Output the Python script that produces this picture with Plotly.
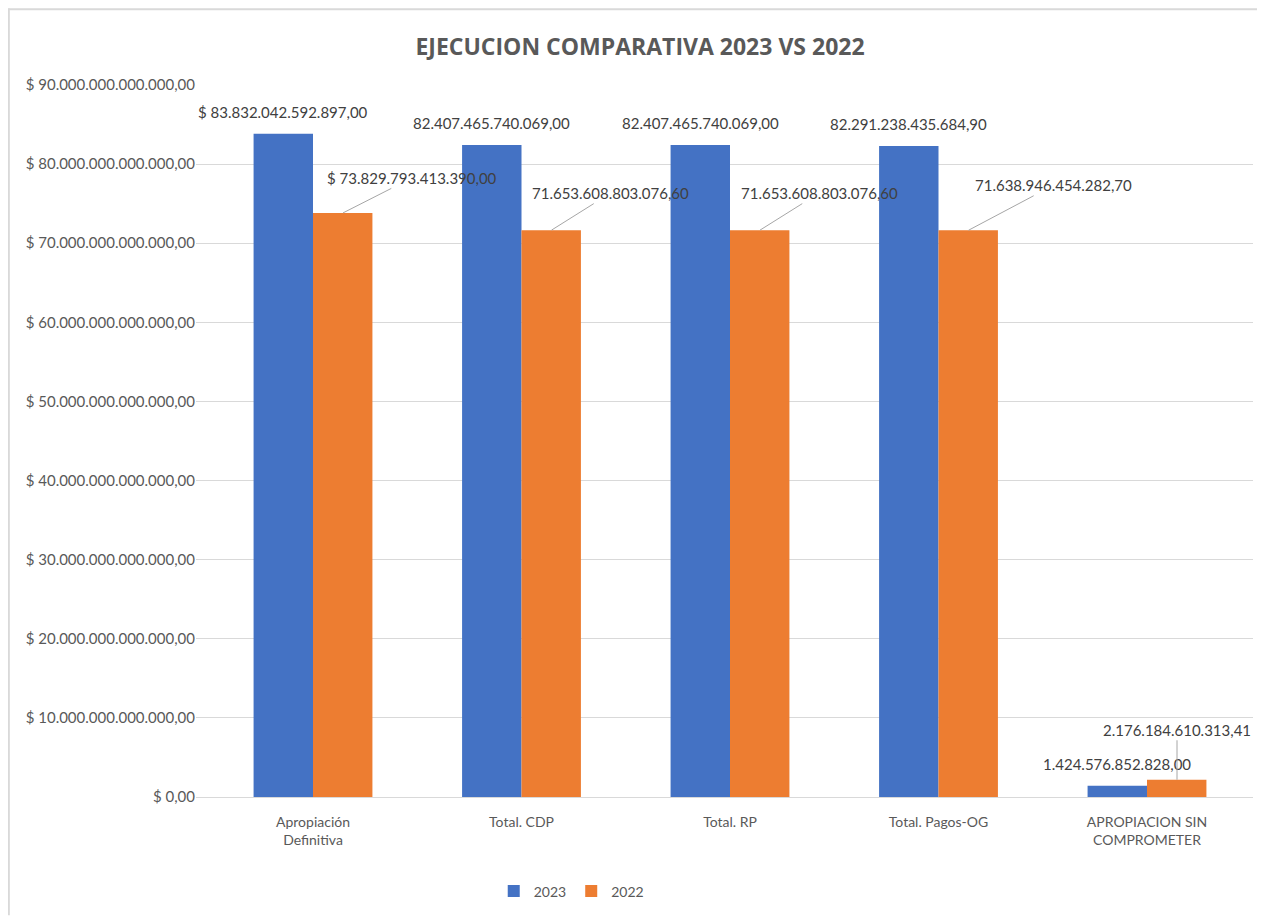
from decimal import Decimal
import plotly.graph_objects as go

categories = ["Apropiación<br>Definitiva", "Total. CDP", "Total. RP", "Total. Pagos-OG",
              "APROPIACION SIN<br>COMPROMETER"]
series_names = ["2023", "2022"]
values_2023 = [83832042592897.00, 82407465740069.00, 82407465740069.00, 82291238435684.90, 1424576852828.00]
values_2022 = [73829793413390.00, 71653608803076.60, 71653608803076.60, 71638946454282.70, 2176184610313.41]
label_prefix = ["$ ", "", "", "", ""]
y_tick_values = [0, 10e12, 20e12, 30e12, 40e12, 50e12, 60e12, 70e12, 80e12, 90e12]

BLUE = "#4472C4"
ORANGE = "#ED7D31"
FONT = "Lato"

OFF = 8
W, H = 1265 - OFF, 920 - OFF
ML, MR, MT, MB = 188, 12, 77, 119
PW = W - ML - MR
PH = H - MT - MB


def fmt(v):
    d = Decimal(repr(float(v))).quantize(Decimal("0.01"))
    s = f"{d:,.2f}"
    return s.replace(",", "X").replace(".", ",").replace("X", ".")


fig = go.Figure()
fig.add_trace(go.Bar(x=categories, y=values_2023, name=series_names[0], marker_color=BLUE,
                     marker_line_width=0))
fig.add_trace(go.Bar(x=categories, y=values_2022, name=series_names[1], marker_color=ORANGE,
                     marker_line_width=0))

annotations = []
for i, (c, v) in enumerate(zip(categories, values_2023)):
    annotations.append(dict(x=c, y=v, xref="x", yref="y", text=label_prefix[i] + fmt(v),
                            showarrow=False, xshift=-30, yshift=22,
                            font=dict(family=FONT, size=15, color="#404040")))
offsets = [(69, -35), (59, -37), (59, -37), (85, -45), (0, -50)]
for i, (c, v) in enumerate(zip(categories, values_2022)):
    ax, ay = offsets[i]
    annotations.append(dict(x=c, y=v, xref="x", yref="y", text=label_prefix[i] + fmt(v),
                            showarrow=True, arrowhead=0, arrowwidth=1, arrowcolor="#A6A6A6",
                            ax=ax, ay=ay, xshift=30, standoff=0,
                            font=dict(family=FONT, size=15, color="#404040")))

top_y = (H - MB) / PH
left_x = -ML / PW
shapes = [
    dict(type="line", xref="paper", yref="paper", x0=left_x, x1=(W - ML) / PW,
         y0=top_y - 0.001, y1=top_y - 0.001, line=dict(color="#D9D9D9", width=2)),
    dict(type="line", xref="paper", yref="paper", x0=left_x + 0.0008, x1=left_x + 0.0008,
         y0=top_y, y1=-MB / PH, line=dict(color="#D9D9D9", width=2)),
]

fig.update_layout(
    width=W, height=H,
    margin=dict(l=ML, r=MR, t=MT, b=MB),
    paper_bgcolor="white", plot_bgcolor="white",
    barmode="group", bargap=0.43, bargroupgap=0,
    title=dict(text="<b>EJECUCION COMPARATIVA 2023 VS 2022</b>", x=(640 - OFF) / W, xanchor="center",
               y=1 - (47 - OFF) / H, yanchor="middle",
               font=dict(family="Open Sans", size=23, color="#595959")),
    font=dict(family=FONT, size=14, color="#595959"),
    legend=dict(orientation="h", x=0.355, xanchor="center", y=-(894 - 799) / 716,
                yanchor="middle", font=dict(family=FONT, size=14, color="#595959"),
                itemwidth=30, traceorder="normal"),
    annotations=annotations,
    shapes=shapes,
)
fig.update_yaxes(range=[0, 90e12], tickmode="array", tickvals=y_tick_values,
                 ticktext=["$ " + fmt(v) for v in y_tick_values], automargin=False,
                 showgrid=True, gridcolor="#D9D9D9", gridwidth=1, zeroline=False,
                 showline=False, ticks="", ticklen=0,
                 tickfont=dict(family=FONT, size=15, color="#595959"))
fig.update_xaxes(showline=True, linecolor="#D9D9D9", linewidth=1, ticks="", automargin=False,
                 ticklabelstandoff=12,
                 tickfont=dict(family=FONT, size=14, color="#595959"))

fig.write_html("out.html")
